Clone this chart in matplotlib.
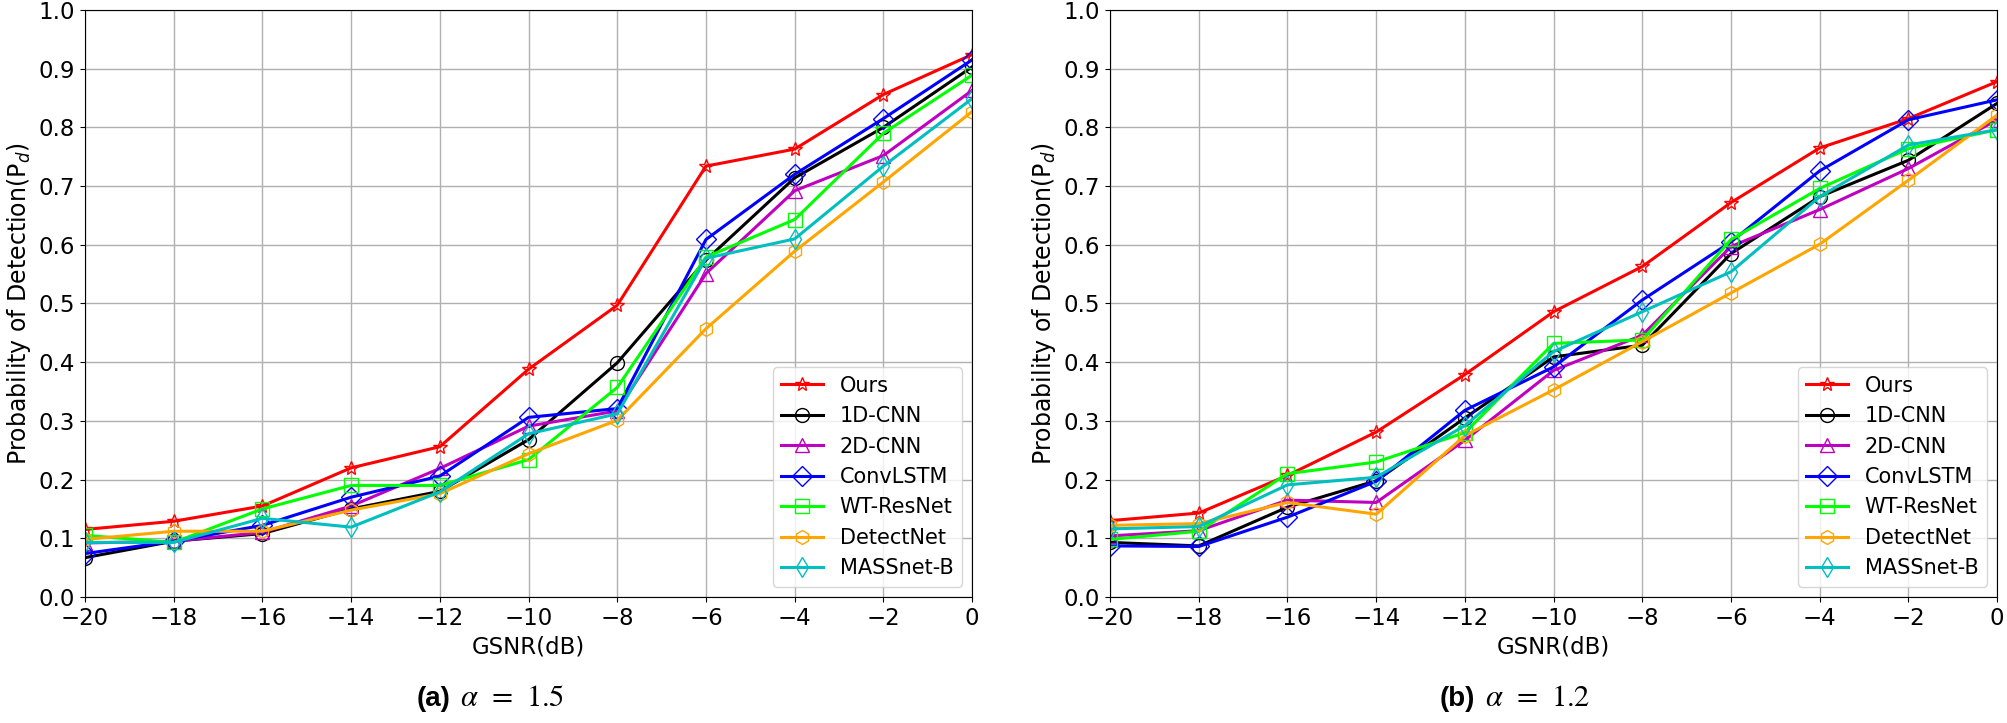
import numpy as np
import matplotlib
matplotlib.use("Agg")
import matplotlib.pyplot as plt

# GSNR axis
snr = [-20, -18, -16, -14, -12, -10, -8, -6, -4, -2, 0]

labels = ['Ours', '1D-CNN', '2D-CNN', 'ConvLSTM', 'WT-ResNet', 'DetectNet', 'MASSnet-B']

# (a) alpha = 1.5
ours_a = [0.115, 0.129, 0.155, 0.220, 0.256, 0.388, 0.497, 0.734, 0.763, 0.856, 0.924]
cnn1d_a = [0.067, 0.095, 0.108, 0.150, 0.180, 0.268, 0.399, 0.574, 0.714, 0.800, 0.903]
cnn2d_a = [0.092, 0.095, 0.110, 0.155, 0.219, 0.291, 0.317, 0.551, 0.692, 0.752, 0.863]
convlstm_a = [0.074, 0.095, 0.122, 0.170, 0.206, 0.306, 0.321, 0.609, 0.720, 0.815, 0.915]
wtresnet_a = [0.105, 0.093, 0.150, 0.190, 0.190, 0.234, 0.357, 0.579, 0.643, 0.790, 0.889]
detectnet_a = [0.098, 0.112, 0.112, 0.148, 0.176, 0.244, 0.301, 0.457, 0.589, 0.707, 0.827]
massnet_a = [0.093, 0.093, 0.134, 0.119, 0.179, 0.278, 0.312, 0.577, 0.610, 0.734, 0.849]

# (b) alpha = 1.2
ours_b = [0.130, 0.143, 0.207, 0.281, 0.379, 0.486, 0.563, 0.672, 0.765, 0.815, 0.878]
cnn1d_b = [0.093, 0.087, 0.153, 0.198, 0.305, 0.409, 0.429, 0.585, 0.682, 0.744, 0.841]
cnn2d_b = [0.104, 0.113, 0.165, 0.161, 0.267, 0.386, 0.446, 0.597, 0.660, 0.730, 0.813]
convlstm_b = [0.087, 0.086, 0.136, 0.197, 0.318, 0.392, 0.506, 0.605, 0.726, 0.813, 0.847]
wtresnet_b = [0.098, 0.112, 0.210, 0.230, 0.280, 0.432, 0.438, 0.609, 0.696, 0.764, 0.796]
detectnet_b = [0.122, 0.125, 0.161, 0.141, 0.275, 0.353, 0.435, 0.518, 0.601, 0.710, 0.821]
massnet_b = [0.116, 0.120, 0.191, 0.204, 0.292, 0.418, 0.486, 0.554, 0.682, 0.770, 0.796]

colors = ['r', 'k', 'm', 'b', 'lime', 'orange', 'c']
markers = ['*', 'o', '^', 'D', 's', 'h', 'd']

series_a = [ours_a, cnn1d_a, cnn2d_a, convlstm_a, wtresnet_a, detectnet_a, massnet_a]
series_b = [ours_b, cnn1d_b, cnn2d_b, convlstm_b, wtresnet_b, detectnet_b, massnet_b]

fig = plt.figure(figsize=(20.07, 7.23), dpi=100)
ax1 = fig.add_axes([0.04235, 0.1743, 0.4420, 0.8119])
ax2 = fig.add_axes([0.5531, 0.1743, 0.4420, 0.8119])

for ax, series in [(ax1, series_a), (ax2, series_b)]:
    for y, lab, c, m in zip(series, labels, colors, markers):
        ax.plot(snr, y, color=c, marker=m, label=lab, linewidth=2.2,
                markersize=10, markerfacecolor='none', markeredgewidth=1.0)
    ax.set_xlim(-20, 0)
    ax.set_ylim(0, 1.0)
    ax.set_xticks(np.arange(-20, 1, 2))
    ax.set_yticks(np.arange(0, 1.01, 0.1))
    ax.grid(True, color='#b0b0b0', linewidth=1.0)
    ax.tick_params(labelsize=16.5)
    ax.set_xlabel('GSNR(dB)', fontsize=16.5)
    ax.set_ylabel(r'Probability of Detection(P$_d$)', fontsize=17)
    ax.legend(loc='lower right', fontsize=15)

# sub captions: bold sans tag + serif math
for ax, tag, txt in [(ax1, '(a)', r'$\alpha\;\,=\;\,1.5$'), (ax2, '(b)', r'$\alpha\;\,=\;\,1.2$')]:
    pos = ax.get_position()
    xs = pos.x0 + pos.width / 2 - 0.0365
    fig.text(xs - 0.0025, 0.024, tag, fontsize=20, fontweight='bold',
             family='Liberation Sans', ha='right', va='baseline')
    fig.text(xs + 0.0025, 0.024, txt, fontsize=22, math_fontfamily='stix',
             ha='left', va='baseline')

fig.savefig('out.png', dpi=100)
